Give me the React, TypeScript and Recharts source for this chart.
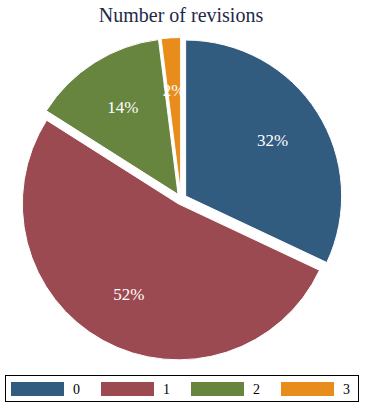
import { PieChart, Pie, Cell } from "recharts";

const categories = ["0", "1", "2", "3"];
const shares = [32, 52, 14, 2];
const colors = ["#325B80", "#9C4A51", "#67853F", "#E88D1B"];
const title = "Number of revisions";

const W = 366;
const H = 406;
const CX = 181;
const CY = 199;
const R = 156;
const EXPLODE = 5.5;
const RAD = Math.PI / 180;
const serif = "Liberation Serif, Times New Roman, DejaVu Serif, serif";

const data = categories.map((name, i) => ({ name, value: shares[i] }));

// middle angle of each slice (recharts convention, clockwise from 12 o'clock)
const total = shares.reduce((a, b) => a + b, 0);
let acc = 0;
const midAngles = shares.map((v) => {
  const start = 90 - (acc / total) * 360;
  acc += v;
  const end = 90 - (acc / total) * 360;
  return (start + end) / 2;
});

const makeLabel = (only: number) => (props: any) => {
  const { cx, cy, midAngle, percent, index } = props;
  if (index !== only) return null;
  const r = R * 0.66;
  const x = cx + r * Math.cos(-midAngle * RAD);
  const y = cy + r * Math.sin(-midAngle * RAD);
  return (
    <text
      x={x}
      y={y}
      fill="#fff"
      textAnchor="middle"
      dominantBaseline="central"
      style={{ fontFamily: serif, fontSize: 17 }}
    >
      {`${Math.round(percent * 100)}%`}
    </text>
  );
};

const Legend = () => {
  const left = 5;
  const top = 375;
  const step = 90;
  return (
    <g style={{ fontFamily: serif, fontSize: 14 }}>
      <rect x={left + 0.5} y={top + 0.5} width={353} height={26} fill="#fff" stroke="#000" />
      {categories.map((c, i) => (
        <g key={c}>
          <rect x={11 + i * step} y={382} width={53} height={14} fill={colors[i]} />
          <text x={73 + i * step} y={389} dominantBaseline="central" fill="#000">
            {c}
          </text>
        </g>
      ))}
    </g>
  );
};

export default function App() {
  return (
    <div style={{ position: "absolute", left: 0, top: 0, width: W, height: H, background: "#fff" }}>
      <PieChart width={W} height={H} margin={{ top: 0, right: 0, bottom: 0, left: 0 }}>
        {categories.map((c, i) => (
          <Pie
            key={c}
            data={data}
            dataKey="value"
            nameKey="name"
            cx={CX + EXPLODE * Math.cos(-midAngles[i] * RAD)}
            cy={CY + EXPLODE * Math.sin(-midAngles[i] * RAD)}
            outerRadius={R}
            startAngle={90}
            endAngle={-270}
            isAnimationActive={false}
            labelLine={false}
            label={makeLabel(i)}
          >
            {data.map((d, j) => (
              <Cell
                key={d.name}
                fill={j === i ? colors[j] : "none"}
                stroke={j === i ? "#fff" : "none"}
                strokeWidth={1}
              />
            ))}
          </Pie>
        ))}
      </PieChart>
      <svg width={W} height={H} style={{ position: "absolute", left: 0, top: 0, pointerEvents: "none" }}>
        <text x={181} y={22} textAnchor="middle" style={{ fontFamily: serif, fontSize: 20 }} fill="#1F2A48">
          {title}
        </text>
        <Legend />
      </svg>
    </div>
  );
}
